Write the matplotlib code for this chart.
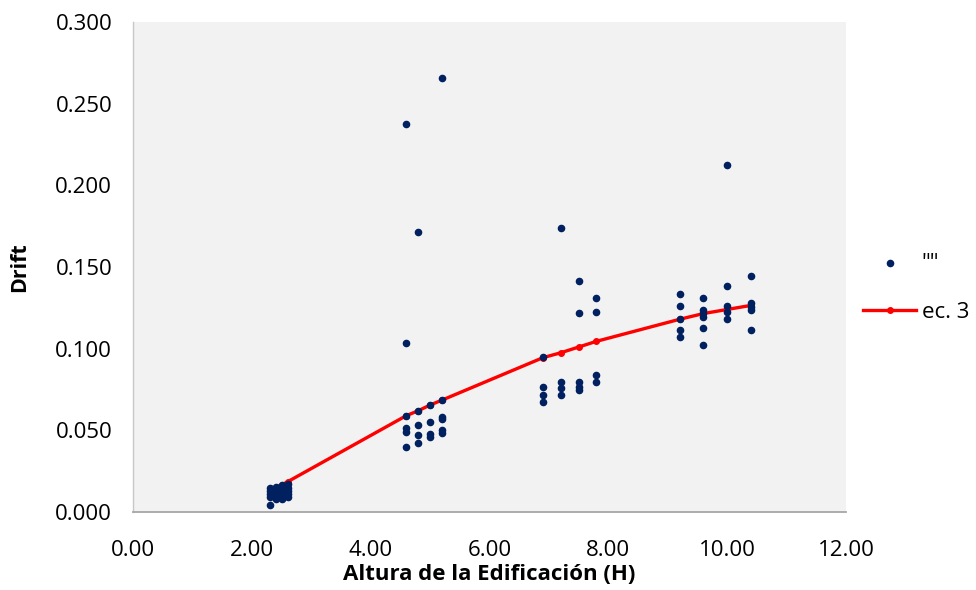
import matplotlib
matplotlib.use("Agg")
import matplotlib.pyplot as plt
from matplotlib.ticker import FormatStrFormatter

plt.rcParams['font.family'] = ['Open Sans', 'DejaVu Sans']

# Datos: altura de la edificación vs drift
altura = (
    [2.3] * 5 + [2.4] * 5 + [2.5] * 5 + [2.6] * 5
    + [4.6] * 6 + [4.8] * 5 + [5.0] * 4 + [5.2] * 6
    + [6.9] * 4 + [7.2] * 4 + [7.5] * 5 + [7.8] * 4
    + [9.2] * 5 + [9.6] * 6 + [10.0] * 5 + [10.4] * 5
)
drift = (
    [0.0045, 0.009, 0.011, 0.013, 0.0145]
    + [0.008, 0.010, 0.012, 0.014, 0.0155]
    + [0.008, 0.0105, 0.0125, 0.015, 0.0165]
    + [0.009, 0.011, 0.013, 0.015, 0.017]
    + [0.2375, 0.1035, 0.059, 0.0514, 0.049, 0.0398]
    + [0.1714, 0.062, 0.0533, 0.0471, 0.0422]
    + [0.0655, 0.0553, 0.0480, 0.0461]
    + [0.2657, 0.0686, 0.058, 0.0502, 0.0484, 0.057]
    + [0.0951, 0.0767, 0.0716, 0.0675]
    + [0.1739, 0.0798, 0.0757, 0.0716]
    + [0.1414, 0.1218, 0.0798, 0.0767, 0.0747]
    + [0.131, 0.1224, 0.0839, 0.0798]
    + [0.1333, 0.1261, 0.118, 0.1114, 0.1073]
    + [0.1308, 0.1237, 0.1216, 0.1196, 0.1129, 0.1022]
    + [0.2125, 0.1384, 0.1261, 0.1226, 0.1182]
    + [0.1445, 0.1278, 0.1257, 0.1237, 0.1114]
)

# Ecuación 3 evaluada en cada altura
altura_ec3 = [2.3, 2.4, 2.5, 2.6, 4.6, 4.8, 5.0, 5.2, 6.9, 7.2, 7.5, 7.8, 9.2, 9.6, 10.0, 10.4]
drift_ec3 = [0.0135, 0.015, 0.0165, 0.0185, 0.059, 0.062, 0.0655, 0.0685,
             0.0945, 0.0975, 0.101, 0.1045, 0.118, 0.1215, 0.124, 0.1265]

fig = plt.figure(figsize=(9.76, 5.9), dpi=100)
ax = fig.add_axes([0.1363, 0.1322, 0.7305, 0.8305])
ax.set_facecolor('#f2f2f2')

ax.scatter(altura, drift, s=20, color='#002060', label='""', zorder=3)
ax.plot(altura_ec3, drift_ec3, color='#ff0000', lw=2.4, marker='o', markersize=4,
        label='ec. 3', zorder=2)

ax.set_xlim(0, 12)
ax.set_ylim(0, 0.3)
ax.set_xticks([0, 2, 4, 6, 8, 10, 12])
ax.set_yticks([0, 0.05, 0.1, 0.15, 0.2, 0.25, 0.3])
ax.xaxis.set_major_formatter(FormatStrFormatter('%.2f'))
ax.yaxis.set_major_formatter(FormatStrFormatter('%.3f'))
ax.tick_params(length=0, labelsize=16)
ax.tick_params(axis='x', pad=20)
ax.tick_params(axis='y', pad=15)

ax.spines['top'].set_visible(False)
ax.spines['right'].set_visible(False)
ax.spines['left'].set_color('#c8c8c8')
ax.spines['left'].set_linewidth(1.0)
ax.spines['bottom'].set_color('#a6a6a6')
ax.spines['bottom'].set_linewidth(1.3)

ax.set_xlabel('Altura de la Edificación (H)', fontsize=16, fontweight='bold', labelpad=2)
ax.set_ylabel('Drift', fontsize=15.5, fontweight='bold', labelpad=18)

leg = ax.legend(loc='center left', bbox_to_anchor=(1.0238, 0.457), frameon=False,
                fontsize=16, labelspacing=1.25, handlelength=2.4, handletextpad=0.25,
                borderpad=0, borderaxespad=0)

fig.savefig('out.png', dpi=100, facecolor='white')
